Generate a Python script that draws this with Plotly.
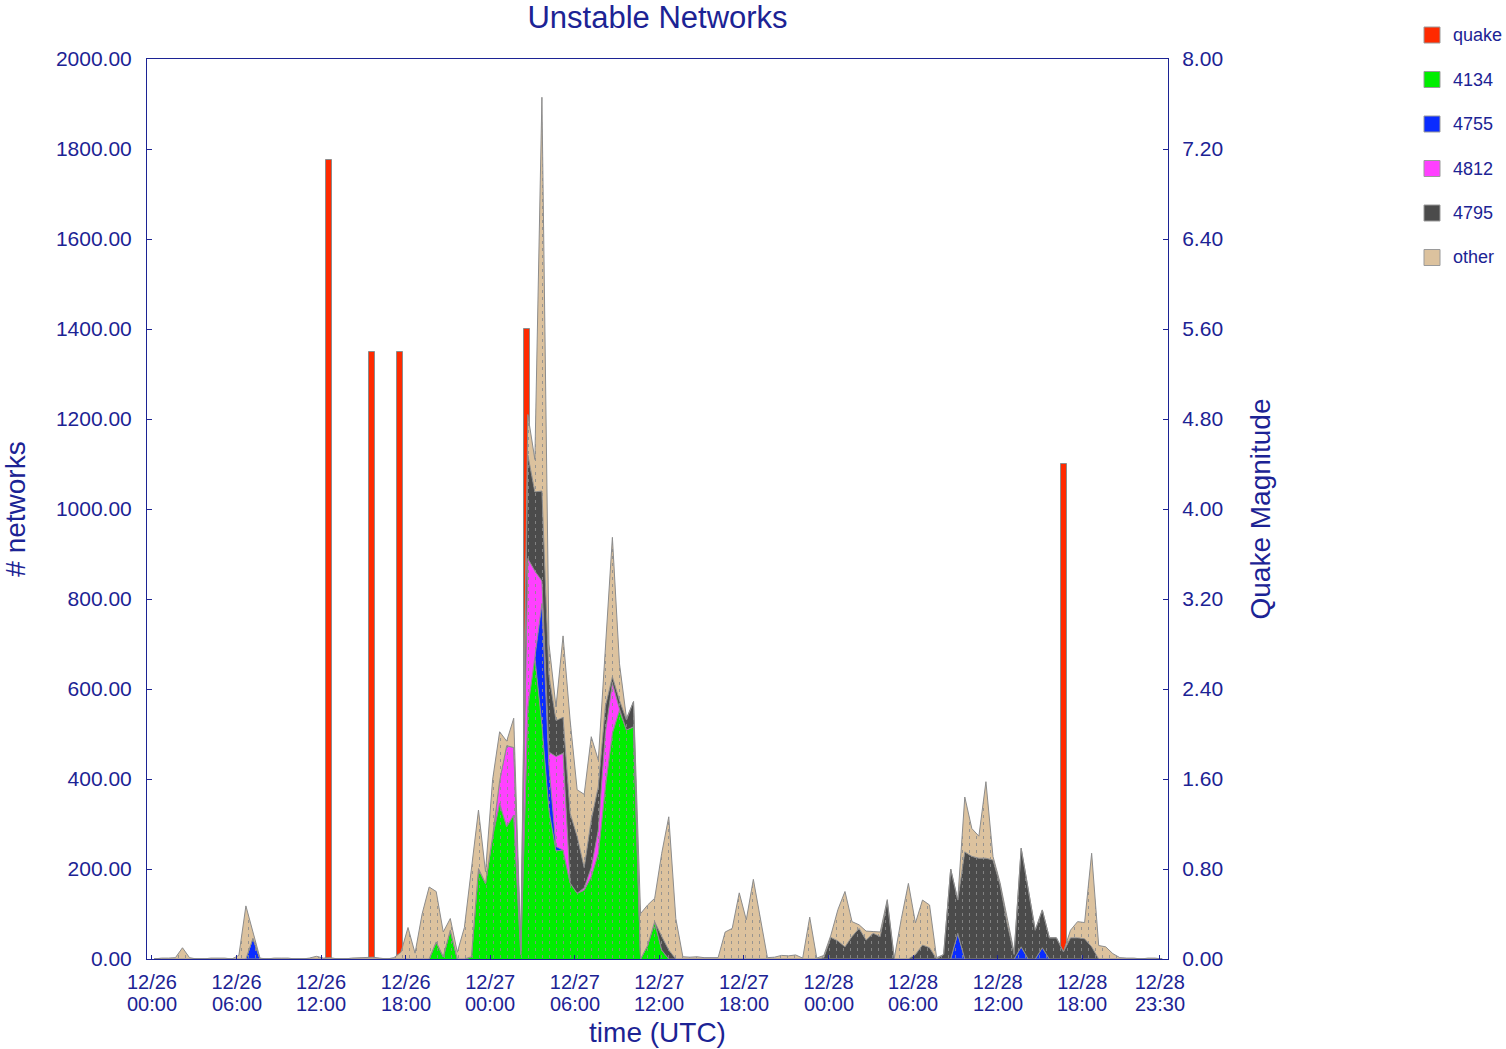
import pandas as pd
import plotly.graph_objects as go

# Half-hourly samples, 12/26 00:10 UTC through 12/28 23:40 UTC
sample_start = "2006-12-26 00:10"
sample_count = 144

# Unstable networks per origin AS (stacked, bottom to top)
as_4134 = [
    0, 0, 0, 0, 0, 0, 0, 0, 0, 0, 0, 0,
    0, 0, 0, 0, 0, 0, 0, 0, 0, 0, 0, 0,
    0, 0, 0, 0, 0, 0, 0, 0, 0, 0, 0, 0,
    0, 0, 0, 0, 38, 5, 64, 0, 0, 5, 201, 168,
    272, 346, 294, 320, 10, 560, 670, 520, 330, 240, 242, 169,
    146, 153, 183, 235, 383, 502, 553, 509, 516, 0, 30, 83,
    20, 0, 0, 0, 0, 0, 0, 0, 0, 0, 0, 0,
    0, 0, 0, 0, 0, 0, 0, 0, 0, 0, 0, 0,
    0, 0, 0, 0, 0, 0, 0, 0, 0, 0, 0, 0,
    0, 0, 0, 0, 0, 0, 0, 0, 0, 0, 0, 0,
    0, 0, 0, 0, 0, 0, 0, 0, 0, 0, 0, 0,
    0, 0, 0, 0, 0, 0, 0, 0, 0, 0, 0, 0,
]
as_4755 = [
    0, 0, 0, 0, 0, 0, 0, 0, 0, 0, 0, 0,
    0, 0, 46, 0, 0, 0, 0, 0, 0, 0, 0, 0,
    0, 0, 0, 0, 0, 0, 0, 0, 0, 0, 0, 0,
    0, 0, 0, 0, 0, 0, 0, 0, 0, 0, 0, 0,
    0, 0, 0, 0, 0, 0, 0, 270, 100, 10, 0, 0,
    0, 0, 0, 0, 0, 0, 0, 0, 0, 0, 0, 0,
    0, 0, 0, 0, 0, 0, 0, 0, 0, 0, 0, 0,
    0, 0, 0, 0, 0, 0, 0, 0, 0, 0, 0, 0,
    0, 0, 0, 0, 0, 0, 0, 0, 0, 0, 0, 0,
    0, 0, 0, 0, 0, 0, 57, 0, 0, 0, 0, 0,
    0, 0, 0, 27, 0, 0, 25, 0, 0, 0, 0, 0,
    0, 0, 0, 0, 0, 0, 0, 0, 0, 0, 0, 0,
]
as_4812 = [
    0, 0, 0, 0, 0, 0, 0, 0, 0, 0, 0, 0,
    0, 0, 0, 0, 0, 0, 0, 0, 0, 0, 0, 0,
    0, 0, 0, 0, 0, 0, 0, 0, 0, 0, 0, 0,
    0, 0, 0, 0, 0, 0, 0, 0, 0, 0, 0, 0,
    0, 50, 180, 150, 10, 330, 192, 50, 30, 200, 215, 0,
    0, 5, 20, 52, 119, 111, 3, 0, 0, 0, 0, 0,
    0, 0, 0, 0, 0, 0, 0, 0, 0, 0, 0, 0,
    0, 0, 0, 0, 0, 0, 0, 0, 0, 0, 0, 0,
    0, 0, 0, 0, 0, 0, 0, 0, 0, 0, 0, 0,
    0, 0, 0, 0, 0, 0, 0, 0, 0, 0, 0, 0,
    0, 0, 0, 0, 0, 0, 0, 0, 0, 0, 0, 0,
    0, 0, 0, 0, 0, 0, 0, 0, 0, 0, 0, 0,
]
as_4795 = [
    0, 0, 0, 0, 0, 0, 0, 0, 0, 0, 0, 0,
    0, 0, 0, 0, 0, 0, 0, 0, 0, 0, 0, 0,
    0, 0, 0, 0, 0, 0, 0, 0, 0, 0, 0, 0,
    0, 0, 0, 0, 0, 0, 0, 0, 0, 0, 0, 0,
    0, 0, 0, 0, 0, 230, 176, 200, 170, 80, 80, 155,
    126, 45, 106, 96, 59, 14, 19, 22, 56, 0, 0, 0,
    30, 20, 0, 0, 0, 0, 0, 0, 0, 0, 0, 0,
    0, 0, 0, 0, 0, 0, 0, 0, 0, 0, 0, 3,
    48, 40, 27, 50, 68, 42, 57, 50, 128, 0, 0, 0,
    10, 31, 25, 0, 10, 200, 74, 238, 228, 224, 224, 220,
    165, 80, 10, 219, 155, 64, 84, 47, 47, 16, 47, 47,
    45, 27, 0, 0, 0, 0, 0, 0, 0, 0, 0, 0,
]
as_other = [
    0, 2, 2, 3, 25, 3, 0, 0, 2, 2, 2, 0,
    8, 118, 15, 2, 0, 2, 2, 2, 0, 0, 2, 6,
    2, 3, 0, 0, 2, 3, 4, 4, 2, 0, 3, 15,
    70, 13, 100, 160, 112, 55, 26, 15, 70, 195, 130, 26,
    126, 109, 10, 65, 10, 90, 72, 875, 70, 30, 181, 207,
    104, 163, 185, 59, 141, 310, 82, 4, 0, 101, 90, 52,
    185, 296, 90, 5, 4, 5, 3, 3, 3, 60, 68, 147,
    87, 177, 90, 3, 4, 8, 7, 9, 2, 93, 2, 5,
    5, 70, 123, 33, 8, 20, 4, 10, 4, 2, 90, 168,
    70, 100, 95, 3, 0, 0, 0, 122, 62, 49, 170, 8,
    5, 15, 5, 0, 0, 0, 0, 0, 0, 0, 17, 36,
    36, 208, 30, 27, 12, 3, 2, 2, 0, 2, 2, 0,
]

# Earthquakes: time (UTC) and magnitude
quake_times = [
    "2006-12-26 12:34", "2006-12-26 15:37", "2006-12-26 17:37",
    "2006-12-27 02:38", "2006-12-28 16:42",
]
quake_mags = [7.1, 5.4, 5.4, 5.6, 4.4]

# Axis ticks
x_tick_times = [
    "2006-12-26 00:00", "2006-12-26 06:00", "2006-12-26 12:00", "2006-12-26 18:00",
    "2006-12-27 00:00", "2006-12-27 06:00", "2006-12-27 12:00", "2006-12-27 18:00",
    "2006-12-28 00:00", "2006-12-28 06:00", "2006-12-28 12:00", "2006-12-28 18:00",
    "2006-12-28 23:30",
]
x_tick_dates = [
    "12/26", "12/26", "12/26", "12/26", "12/27", "12/27", "12/27", "12/27",
    "12/28", "12/28", "12/28", "12/28", "12/28",
]
x_tick_clock = [
    "00:00", "06:00", "12:00", "18:00", "00:00", "06:00", "12:00", "18:00",
    "00:00", "06:00", "12:00", "18:00", "23:30",
]
net_ticks = [0, 200, 400, 600, 800, 1000, 1200, 1400, 1600, 1800, 2000]
mag_ticks = [0, 0.8, 1.6, 2.4, 3.2, 4.0, 4.8, 5.6, 6.4, 7.2, 8.0]

NAVY = "#1c2394"
OUTLINE = "#8c8c8c"
FONT = "Liberation Sans, Arial, sans-serif"

times = pd.date_range(sample_start, periods=sample_count, freq="30min")
tick_times = pd.to_datetime(x_tick_times)

series = [
    ("4134", as_4134, "#00ee00"),
    ("4755", as_4755, "#0a2cff"),
    ("4812", as_4812, "#ff40ff"),
    ("4795", as_4795, "#4b4b4b"),
    ("other", as_other, "#dcc29e"),
]

fig = go.Figure()

# Quake magnitude bars on the magnitude axis (drawn beneath the network areas)
fig.add_trace(go.Bar(
    x=pd.to_datetime(quake_times), y=quake_mags, yaxis="y",
    width=25 * 60 * 1000,
    marker=dict(color="#ff2a00", line=dict(color=OUTLINE, width=1)),
    showlegend=False, name="quake",
))

# Stacked network areas on the networks axis, hatched with short vertical dashes
for name, vals, color in series:
    fig.add_trace(go.Scatter(
        x=times, y=vals, yaxis="y2", mode="lines", stackgroup="nets",
        line=dict(color=OUTLINE, width=1),
        fillcolor=color,
        fillpattern=dict(path="M3,0H4V3H3Z", fgcolor="#8c8c8c", fgopacity=0.85,
                         size=7, fillmode="overlay"),
        showlegend=False, name=name,
    ))

# Legend: swatches and labels placed to the right of the plot
plot_left, plot_right, plot_top, plot_bottom = 147, 1168, 59, 959
def px_x(px):
    return (px - plot_left) / (plot_right - plot_left)
def px_y(py):
    return (plot_bottom - py) / (plot_bottom - plot_top)

legend_items = [("quake", "#ff2a00")] + [(n, c) for n, _, c in series]
shapes, annotations = [], []
for k, (name, color) in enumerate(legend_items):
    cy = 35 + 44.5 * k
    shapes.append(dict(
        type="rect", xref="paper", yref="paper",
        x0=px_x(1424), x1=px_x(1440), y0=px_y(cy + 8), y1=px_y(cy - 8),
        fillcolor=color, line=dict(color="#9a9a9a", width=1), layer="above",
    ))
    annotations.append(dict(
        xref="paper", yref="paper", x=px_x(1451), y=px_y(cy),
        xanchor="left", yanchor="middle", showarrow=False, text=name,
        font=dict(family=FONT, size=18, color=NAVY),
    ))

# Second line of the time tick labels (clock time under each date)
for t, clock in zip(tick_times, x_tick_clock):
    annotations.append(dict(
        xref="x", yref="paper", x=t, y=0, yshift=-45,
        xanchor="center", yanchor="middle", showarrow=False, text=clock,
        font=dict(family=FONT, size=20, color=NAVY),
    ))

tick_font = dict(family=FONT, size=21, color=NAVY)
title_font = dict(family=FONT, size=28, color=NAVY)

fig.update_layout(
    width=1506, height=1049,
    margin=dict(l=plot_left, r=1506 - plot_right, t=plot_top, b=1049 - plot_bottom),
    paper_bgcolor="white", plot_bgcolor="white",
    title=dict(text="Unstable Networks", x=0.4366, xanchor="center",
               y=0.984, yanchor="middle",
               font=dict(family=FONT, size=31, color=NAVY)),
    showlegend=False,
    shapes=shapes,
    annotations=annotations,
    bargap=0,
    xaxis=dict(
        type="date", automargin=False,
        range=["2006-12-25 23:39", "2006-12-29 00:05"],
        tickvals=tick_times, ticktext=x_tick_dates,
        ticks="inside", ticklen=4, tickcolor=NAVY,
        showline=True, linecolor=NAVY, linewidth=1, mirror=True,
        showgrid=False, zeroline=False,
        tickfont=dict(family=FONT, size=20, color=NAVY),
        ticklabelstandoff=5,
        title=dict(text="time (UTC)", font=title_font, standoff=30),
    ),
    yaxis=dict(
        side="right", range=[0, 8], automargin=False,
        tickvals=mag_ticks, tickformat=".2f",
        ticks="inside", ticklen=5, tickcolor=NAVY,
        showline=True, linecolor=NAVY, linewidth=1,
        showgrid=False, zeroline=False,
        tickfont=tick_font, ticklabelstandoff=9,
        title=dict(text="Quake Magnitude", font=title_font, standoff=28),
    ),
    yaxis2=dict(
        overlaying="y", side="left", range=[0, 2000], automargin=False,
        tickvals=net_ticks, tickformat=".2f",
        ticks="inside", ticklen=5, tickcolor=NAVY,
        showline=True, linecolor=NAVY, linewidth=1,
        showgrid=False, zeroline=False,
        tickfont=tick_font, ticklabelstandoff=10,
        title=dict(text="# networks", font=title_font, standoff=24),
    ),
)

fig.write_html("out.html")
